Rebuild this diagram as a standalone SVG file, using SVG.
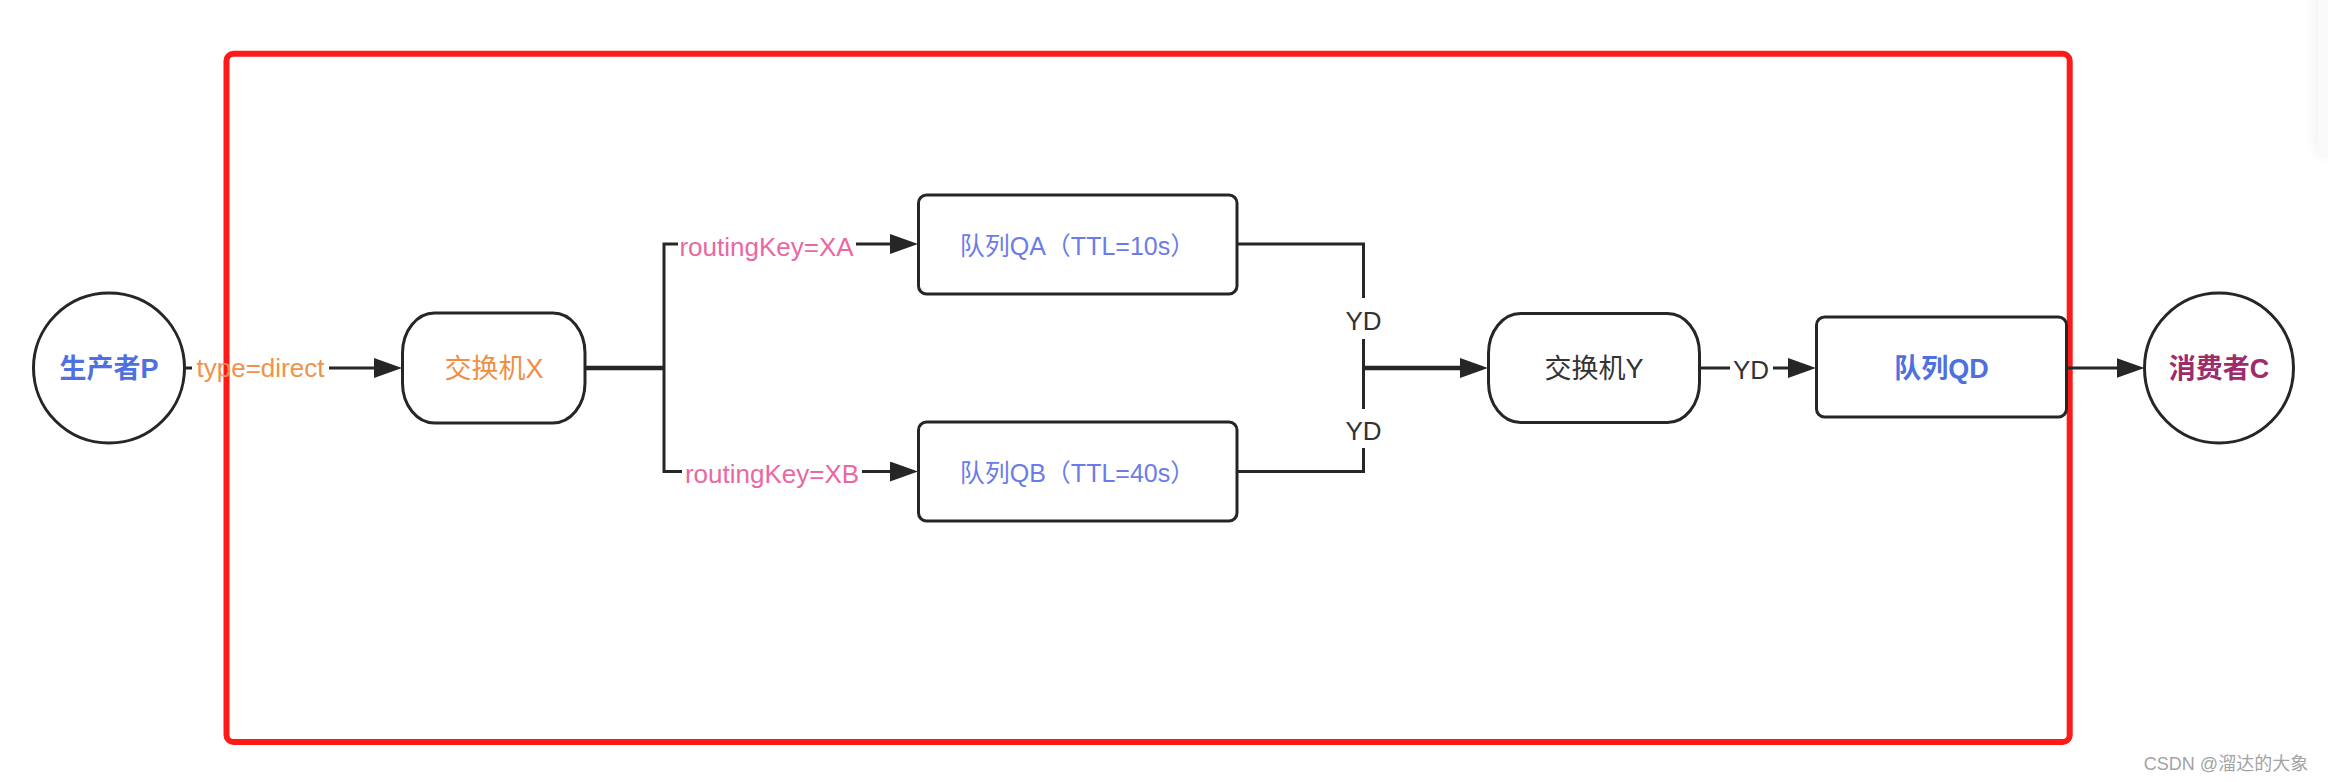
<svg xmlns="http://www.w3.org/2000/svg" width="2328" height="782" viewBox="0 0 2328 782">
  <style>
    .node { fill: #ffffff; stroke: #262626; stroke-width: 3; }
    .conn { fill: none; stroke: #262626; stroke-width: 3; }
    .thick { stroke-width: 4.5; }
    .lbl { font-family: "Liberation Sans", "Noto Sans CJK SC", sans-serif; text-anchor: middle; }
    .big { font-size: 27px; dominant-baseline: central; }
    .q { font-size: 25px; dominant-baseline: central; fill: #6b7ce8; }
    .edge { font-size: 26px; }
  </style>
  <defs>
    <marker id="arrow" markerUnits="userSpaceOnUse" markerWidth="28" markerHeight="20" refX="8" refY="10" orient="auto">
      <path d="M0,0 L28,10 L0,20 Z" fill="#262626"/>
    </marker>
    <filter id="shadow" x="-200%" y="-50%" width="400%" height="200%">
      <feGaussianBlur stdDeviation="6"/>
    </filter>
  </defs>

  <rect width="2328" height="782" fill="#ffffff"/>

  <!-- side panel artifact -->
  <rect x="2314" y="-20" width="30" height="176" rx="10" fill="#000" opacity="0.05" filter="url(#shadow)"/>
  <rect x="2318" y="-20" width="20" height="175" rx="9" fill="#fafafa"/>

  <!-- red frame -->
  <rect x="226.5" y="53.7" width="1843.2" height="688.3" rx="7" fill="none" stroke="#ff1a1a" stroke-width="6"/>

  <g id="connectors">
    <!-- P -> X -->
    <path class="conn" d="M185 368 H192"/>
    <path class="conn" d="M329 368 H382" marker-end="url(#arrow)"/>
    <text class="lbl edge" x="260.5" y="377" fill="#f0924c" font-size="27">type=direct</text>
    <!-- X -> split -->
    <path class="conn thick" d="M585 368 H664"/>
    <path class="conn" d="M678 244 H664 V471.5 H682"/>
    <path class="conn" d="M856 244 H898" marker-end="url(#arrow)"/>
    <path class="conn" d="M862 471.5 H898" marker-end="url(#arrow)"/>
    <text class="lbl edge" x="766.5" y="256" fill="#ea68a2">routingKey=XA</text>
    <text class="lbl edge" x="772" y="483" fill="#ea68a2">routingKey=XB</text>
    <!-- QA/QB -> Y -->
    <path class="conn" d="M1237 244 H1363.5 V298"/>
    <path class="conn" d="M1363.5 339 V409"/>
    <path class="conn" d="M1237 471.5 H1363.5 V448"/>
    <path class="conn thick" d="M1363.5 368 H1468" marker-end="url(#arrow)"/>
    <text class="lbl edge" x="1363.5" y="330" fill="#333333">YD</text>
    <text class="lbl edge" x="1363.5" y="440" fill="#333333">YD</text>
    <!-- Y -> QD -->
    <path class="conn" d="M1700 368 H1730"/>
    <path class="conn" d="M1773 368 H1796" marker-end="url(#arrow)"/>
    <text class="lbl edge" x="1751" y="379" fill="#333333">YD</text>
    <!-- QD -> C -->
    <path class="conn" d="M2066 368 H2124.5" marker-end="url(#arrow)"/>
  </g>

  <g id="producer">
    <ellipse class="node" cx="109" cy="368" rx="75.5" ry="75"/>
    <text class="lbl big" x="109" y="369" fill="#4f70e0" font-weight="bold">生产者P</text>
  </g>

  <g id="exchangeX">
    <rect class="node" x="402.5" y="313" width="182.5" height="110" rx="32" ry="40"/>
    <text class="lbl big" x="494" y="369" fill="#ef8f45">交换机X</text>
  </g>

  <g id="queueQA">
    <rect class="node" x="918.5" y="195" width="318.5" height="99" rx="8"/>
    <text class="lbl q" x="1077.5" y="246">队列QA（TTL=10s）</text>
  </g>

  <g id="queueQB">
    <rect class="node" x="918.5" y="422" width="318.5" height="99" rx="8"/>
    <text class="lbl q" x="1077.5" y="473">队列QB（TTL=40s）</text>
  </g>

  <g id="exchangeY">
    <rect class="node" x="1488.5" y="313.5" width="211" height="109" rx="32" ry="40"/>
    <text class="lbl big" x="1594" y="369" fill="#333333">交换机Y</text>
  </g>

  <g id="queueQD">
    <rect class="node" x="1816.5" y="317" width="250" height="100" rx="8"/>
    <text class="lbl big" x="1941.5" y="369" fill="#4f70e0" font-weight="bold">队列QD</text>
  </g>

  <g id="consumer">
    <ellipse class="node" cx="2219" cy="368" rx="74.5" ry="75"/>
    <text class="lbl big" x="2219" y="369" fill="#9c2c6b" font-weight="bold">消费者C</text>
  </g>

  <text x="2226" y="770" font-family="Liberation Sans, Noto Sans CJK SC, sans-serif" font-size="18" fill="#a3a3a3" text-anchor="middle">CSDN @溜达的大象</text>
</svg>
